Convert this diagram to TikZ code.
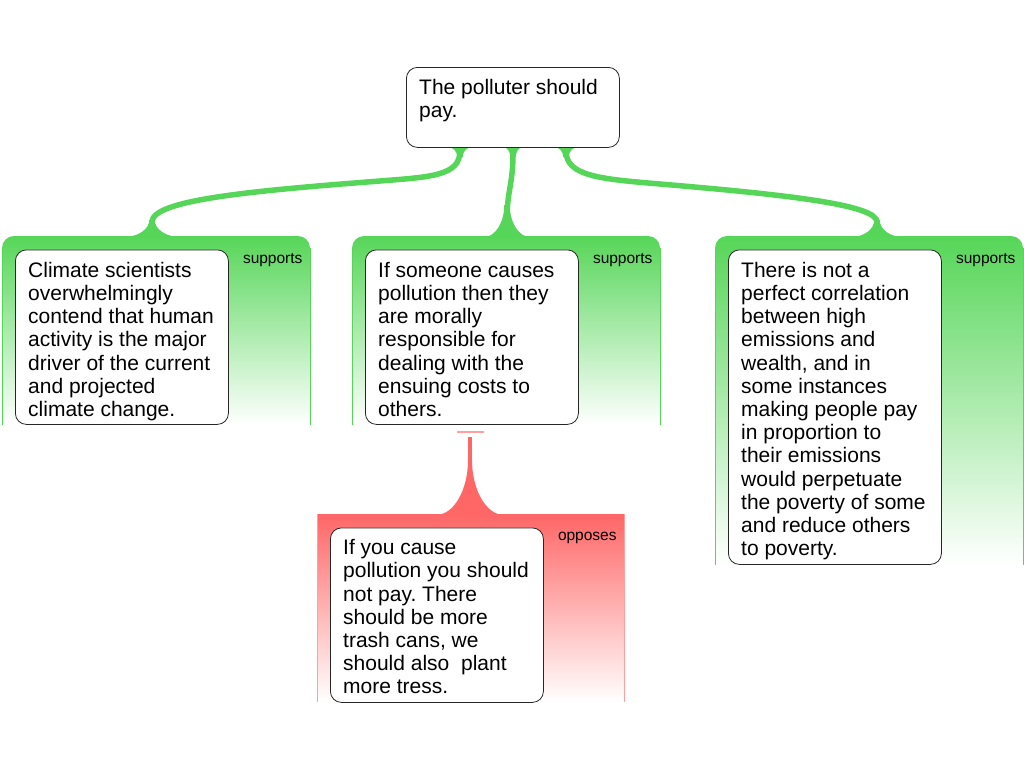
\documentclass[tikz,border=0pt]{standalone}
\usepackage{fontspec}
\setmainfont{Liberation Sans}
\usetikzlibrary{calc}
\frenchspacing
\definecolor{sgreen}{RGB}{86,214,88}
\definecolor{sred}{RGB}{255,102,102}
\definecolor{sredlight}{RGB}{255,160,160}
% flare: x, y(base), half width at base, height, half width of stem, direction (1 = grows up, -1 = grows down)
\newcommand\myflare[6]{%
  \fill ({#1-#3},#2) .. controls ({#1-#3+0.55*(#3-#5)},#2) and ({#1-#5},{#2-(#6)*0.45*#4}) .. ({#1-#5},{#2-(#6)*#4})
   -- ({#1+#5},{#2-(#6)*#4}) .. controls ({#1+#5},{#2-(#6)*0.45*#4}) and ({#1+#3-0.55*(#3-#5)},#2) .. ({#1+#3},#2) -- cycle;}
\begin{document}
\begin{tikzpicture}[x=1pt,y=-1pt,
  claim/.style={draw=black!85, line width=0.8pt, rounded corners=11pt, fill=white, anchor=north west, minimum width=213pt, inner sep=0pt},
  txt/.style={anchor=north west, inner sep=0pt, align=left, font=\fontsize{21}{23.2}\selectfont},
  lbl/.style={anchor=base west, inner sep=0pt, font=\fontsize{15.5}{18}\selectfont},
  gband/.style={rounded corners=12pt, top color=sgreen, bottom color=white, draw=none},
  rband/.style={top color=sred, bottom color=white, draw=none},
  gside/.style={draw=sgreen, line width=1pt},
  rside/.style={draw=sredlight, line width=1pt},
  gconn/.style={draw=sgreen, line width=5.5pt},
  rconn/.style={draw=sred, line width=4pt}]
\useasboundingbox (0,0) rectangle (1024,768);
\fill[white] (0,0) rectangle (1024,768);

% bands
\shade[gband] (2,425) -- (2,236) -- (310,236) -- (310,425);
\draw[gside] (2,248) -- (2,425) (310,248) -- (310,425);
\shade[gband] (352,425) -- (352,236) -- (660,236) -- (660,425);
\draw[gside] (352,248) -- (352,425) (660,248) -- (660,425);
\shade[gband] (715,565) -- (715,236) -- (1023,236) -- (1023,565);
\draw[gside] (715,248) -- (715,565) (1023,248) -- (1023,565);
\shade[rband] (317,702) -- (317,514) -- (624,514) -- (624,702);
\draw[rside] (317,514) -- (317,702) (624,514) -- (624,702);

% connector end points
\coordinate (s1) at (460,147); \coordinate (e1) at (152,236);
\coordinate (s2) at (513,147); \coordinate (e2) at (507,236);
\coordinate (s3) at (566,147); \coordinate (e3) at (877,236);
\coordinate (rs) at (470,437); \coordinate (re) at (470,514);
\coordinate (barl) at (457,432); \coordinate (barr) at (484,432);

% green connectors
\draw[gconn] (s1) -- ++(0,4) .. controls (460,176) and (430,177) .. (380,181) .. controls (250,191) and (152,200) .. (152,222) -- (e1);
\draw[gconn] (s2) -- ++(0,6) .. controls (513,185) and (507,190) .. (507,220) -- (e2);
\draw[gconn] (s3) -- ++(0,4) .. controls (566,176) and (600,179) .. (660,184) .. controls (790,195) and (877,205) .. (877,222) -- (e3);
\begin{scope}[fill=sgreen]
  \myflare{460}{147}{12}{10}{2.75}{-1}
  \myflare{513}{147}{10}{10}{2.75}{-1}
  \myflare{566}{147}{12}{10}{2.75}{-1}
  \myflare{152}{237}{28}{17}{2.75}{1}
  \myflare{507}{237}{23}{32}{2.75}{1}
  \myflare{877}{237}{26}{17}{2.75}{1}
\end{scope}

% red connector
\draw[rconn] (rs) -- (re);
\begin{scope}[fill=sred]
  \myflare{470}{515}{34}{55}{2}{1}
\end{scope}
\draw[sredlight, line width=1.5pt] (barl) -- (barr);

% claim boxes
\node[claim, minimum height=80pt] (top) at (406,67) {};
\node[txt] (toptext) at ($(top.north west)+(13,11.5)$) {\rule{0pt}{16pt}The polluter should\\pay.};

\node[claim, minimum height=174.5pt] (c1) at (15,249.5) {};
\node[txt] (c1text) at ($(c1.north west)+(13,11.5)$) {\rule{0pt}{16pt}Climate scientists\\overwhelmingly\\contend that human\\activity is the major\\driver of the current\\and projected\\climate change.};
\node[lbl] (c1lbl) at ($(c1.north east)+(14,13.5)$) {supports};

\node[claim, minimum height=174.5pt] (c2) at (365,249.5) {};
\node[txt] (c2text) at ($(c2.north west)+(13,11.5)$) {\rule{0pt}{16pt}If someone causes\\pollution then they\\are morally\\responsible for\\dealing with the\\ensuing costs to\\others.};
\node[lbl] (c2lbl) at ($(c2.north east)+(14,13.5)$) {supports};

\node[claim, minimum height=314.5pt] (c3) at (728,249.5) {};
\node[txt] (c3text) at ($(c3.north west)+(13,11.5)$) {\rule{0pt}{16pt}There is not a\\perfect correlation\\between high\\emissions and\\wealth, and in\\some instances\\making people pay\\in proportion to\\their emissions\\would perpetuate\\the poverty of some\\and reduce others\\to poverty.};
\node[lbl] (c3lbl) at ($(c3.north east)+(14,13.5)$) {supports};

\node[claim, minimum height=174.5pt] (c4) at (330,527.5) {};
\node[txt] (c4text) at ($(c4.north west)+(13,11)$) {\rule{0pt}{16pt}If you cause\\pollution you should\\not pay. There\\should be more\\trash cans, we\\should also~ plant\\more tress.};
\node[lbl] (c4lbl) at ($(c4.north east)+(14,12.5)$) {opposes};
\end{tikzpicture}
\end{document}
